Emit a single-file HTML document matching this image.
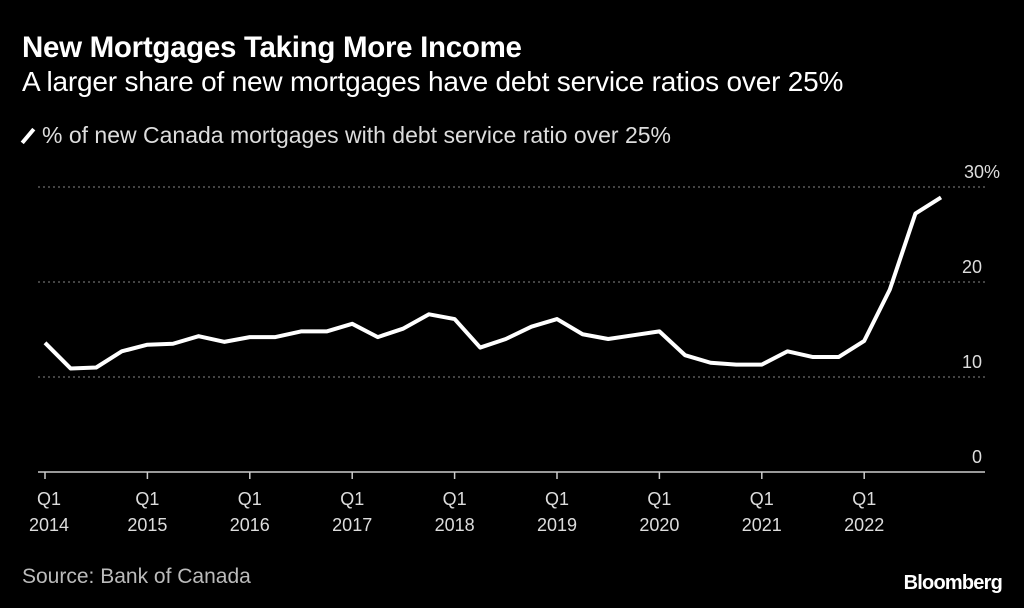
<!DOCTYPE html>
<html><head><meta charset="utf-8"><style>
body{margin:0;background:#000;width:1024px;height:608px;overflow:hidden;font-family:"Liberation Sans",sans-serif;color:#fff}
.t{position:absolute;white-space:nowrap}
</style></head><body>
<div class="t" style="left:22px;top:31px;font-size:29.5px;font-weight:bold;letter-spacing:-0.3px">New Mortgages Taking More Income</div>
<div class="t" style="left:22px;top:66px;font-size:28px;letter-spacing:-0.2px">A larger share of new mortgages have debt service ratios over 25%</div>
<div class="t" style="left:22px;top:122px;font-size:23px;color:#ddd"><span style="display:inline-block;width:4px;height:18px;background:#fff;transform:rotate(40deg);margin:0 12px 0 4px;vertical-align:-2px"></span>% of new Canada mortgages with debt service ratio over 25%</div>
<div class="t" style="left:22px;top:565px;font-size:21px;color:#bbb">Source: Bank of Canada</div>
<div class="t" style="right:22px;top:572px;font-size:20px;font-weight:bold;letter-spacing:-0.8px">Bloomberg</div>
<svg id="c" width="1024" height="608" style="position:absolute;left:0;top:0"></svg>
<script>
const values=[13.6,10.9,11.0,12.7,13.4,13.5,14.3,13.7,14.2,14.2,14.8,14.8,15.6,14.2,15.1,16.6,16.1,13.1,14.0,15.3,16.1,14.5,14.0,14.4,14.8,12.3,11.5,11.3,11.3,12.7,12.1,12.1,13.8,19.2,27.2,28.9];
const years=["2014","2015","2016","2017","2018","2019","2020","2021","2022"];
const yTicks=[0,10,20,30];
const NS="http://www.w3.org/2000/svg";
const svg=document.getElementById('c');
const x=i=>45+i*25.6;
const y=v=>472-v*9.5;
function mk(t,a){const e=document.createElementNS(NS,t);for(const k in a)e.setAttribute(k,a[k]);svg.appendChild(e);return e;}
yTicks.forEach(v=>{
  if(v>0){const g=mk('line',{x1:38,x2:985,y1:y(v),y2:y(v),stroke:'#888','stroke-width':1,'stroke-dasharray':'2,3'});
  
  }
  const t=mk('text',{x:v===30?1000:982,y:y(v)-9,'text-anchor':'end',fill:'#ddd','font-size':18,'font-family':'Liberation Sans, sans-serif'});
  t.textContent=v===30?'30%':String(v);
  
  
});
const ax=mk('line',{x1:38,x2:985,y1:y(0),y2:y(0),stroke:'#ccc','stroke-width':1.5});


years.forEach((yr,k)=>{
  const xi=x(k*4);
  const tk=mk('line',{x1:xi,x2:xi,y1:y(0),y2:y(0)+7,stroke:'#ccc','stroke-width':1.5});
  
  
  const t=mk('text',{x:xi,y:505,'text-anchor':'middle',fill:'#ddd','font-size':18,'font-family':'Liberation Sans, sans-serif'});
  
  
  const a=document.createElementNS(NS,'tspan');a.setAttribute('x',xi+(k===0?4:0));a.textContent='Q1';t.appendChild(a);
  const b=document.createElementNS(NS,'tspan');b.setAttribute('x',xi+(k===0?4:0));b.setAttribute('dy','26');b.textContent=yr;t.appendChild(b);
});
const p=mk('polyline',{points:values.map((v,i)=>x(i)+','+y(v)).join(' '),fill:'none',stroke:'#fff','stroke-width':4,'stroke-linejoin':'round'});


</script>
</body></html>
